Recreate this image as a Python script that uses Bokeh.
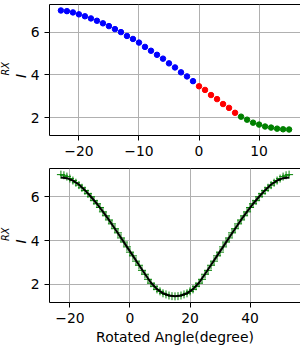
import math
from bokeh.plotting import figure
from bokeh.layouts import column
from bokeh.models import FixedTicker, CustomJSTickFormatter, Label
from bokeh.embed import file_html
from bokeh.resources import INLINE

# ---- data ----
blue_x = list(range(-23, 0))
blue_y = [7.01, 6.98, 6.92, 6.83, 6.74, 6.64, 6.53, 6.41, 6.28, 6.14, 6.00, 5.82,
          5.68, 5.51, 5.31, 5.13, 4.94, 4.76, 4.54, 4.35, 4.12, 3.93, 3.71]
red_x = list(range(0, 7))
red_y = [3.47, 3.30, 3.06, 2.87, 2.64, 2.46, 2.23]
green_x = list(range(7, 16))
green_y = [2.05, 1.91, 1.77, 1.68, 1.59, 1.54, 1.49, 1.46, 1.45]

meas_x = list(range(-23, 54))
meas_y = [7.01, 6.98, 6.92, 6.83, 6.74, 6.64, 6.53, 6.41, 6.28, 6.14, 6.00, 5.82,
          5.68, 5.51, 5.31, 5.13, 4.94, 4.76, 4.54, 4.35, 4.12, 3.93, 3.71,
          3.47, 3.30, 3.06, 2.87, 2.64, 2.46, 2.23,
          2.05, 1.91, 1.77, 1.68, 1.59, 1.54, 1.49, 1.46, 1.45,
          1.46, 1.49, 1.54, 1.59, 1.68, 1.77, 1.91, 2.05, 2.23, 2.46, 2.64, 2.87,
          3.06, 3.30, 3.47, 3.71, 3.93, 4.12, 4.35, 4.54, 4.76, 4.94, 5.13, 5.31,
          5.51, 5.68, 5.82, 6.00, 6.14, 6.28, 6.41, 6.53, 6.64, 6.74, 6.83, 6.92,
          6.98, 7.01]

fit_x = list(range(-23, 54, 2))
fit_y = [6.88, 6.85, 6.74, 6.56, 6.30, 6.00, 5.68, 5.32, 4.94, 4.54, 4.13, 3.71,
         3.30, 2.88, 2.47, 2.07, 1.78, 1.59, 1.49, 1.46, 1.49, 1.59, 1.78, 2.07,
         2.47, 2.88, 3.30, 3.71, 4.13, 4.54, 4.94, 5.32, 5.68, 6.00, 6.30, 6.56,
         6.74, 6.85, 6.88]

top_xticks = [-20, -10, 0, 10]
bot_xticks = [-20, 0, 20, 40]
yticks = [2, 4, 6]

FONT = "DejaVu Sans"
FS = "13.9px"
LEFT = 40
FRAME_W = 251

minus_fmt = CustomJSTickFormatter(code="""
    return tick < 0 ? "\\u2212" + Math.abs(tick) : tick.toString();
""")


def style(p, xticks, frame_h):
    p.outline_line_color = "black"
    p.outline_line_width = 1
    p.xaxis.ticker = FixedTicker(ticks=xticks)
    p.yaxis.ticker = FixedTicker(ticks=yticks)
    for ax in (p.xaxis[0], p.yaxis[0]):
        ax.formatter = minus_fmt
        ax.axis_line_color = None
        ax.major_tick_in = 0
        ax.major_tick_out = 5
        ax.minor_tick_line_color = None
        ax.major_tick_line_color = "black"
        ax.major_label_text_font = FONT
        ax.major_label_text_font_size = FS
        ax.major_label_text_color = "black"
        ax.major_label_standoff = 5
        ax.axis_label_text_font = FONT
        ax.axis_label_text_font_size = FS
        ax.axis_label_text_font_style = "normal"
        ax.axis_label_text_color = "black"
        ax.axis_label_standoff = 3
    p.grid.grid_line_color = "#b0b0b0"
    p.grid.grid_line_width = 1
    # y label "I_RX" (italic I with subscript RX), rotated
    mid = frame_h / 2.0
    p.add_layout(Label(x=9, y=mid - 8, x_units="screen", y_units="screen",
                       text="I", angle=math.pi / 2, text_font=FONT,
                       text_font_size=FS, text_font_style="italic",
                       text_align="left", text_baseline="middle",
                       text_color="black"), "left")
    p.add_layout(Label(x=5, y=mid - 5.5, x_units="screen", y_units="screen",
                       text="RX", angle=math.pi / 2, text_font=FONT,
                       text_font_size="9.7px", text_font_style="italic",
                       text_align="left", text_baseline="middle",
                       text_color="black"), "left")


TOP_H = 131
BOT_H = 134

p1 = figure(frame_width=FRAME_W, frame_height=TOP_H, x_range=(-24.9, 16.9),
            y_range=(1.17, 7.29), output_backend="svg", toolbar_location=None,
            min_border_left=LEFT, min_border_right=2, min_border_top=4,
            min_border_bottom=27)
style(p1, top_xticks, TOP_H)
p1.scatter(blue_x, blue_y, size=5.5, color="blue")
p1.scatter(red_x, red_y, size=5.5, color="red")
p1.scatter(green_x, green_y, size=5.5, color="green")

p2 = figure(frame_width=FRAME_W, frame_height=BOT_H, x_range=(-26.8, 56.8),
            y_range=(1.17, 7.29), output_backend="svg", toolbar_location=None,
            min_border_left=LEFT, min_border_right=2, min_border_top=6,
            min_border_bottom=40)
style(p2, bot_xticks, BOT_H)
p2.xaxis.axis_label = "Rotated Angle(degree)"
p2.scatter(meas_x, meas_y, marker="cross", size=8, line_color="green", line_width=1)
p2.line(fit_x, fit_y, line_color="black", line_width=2)

layout = column(p1, p2, spacing=0)
open("out.html", "w").write(file_html(layout, INLINE))
